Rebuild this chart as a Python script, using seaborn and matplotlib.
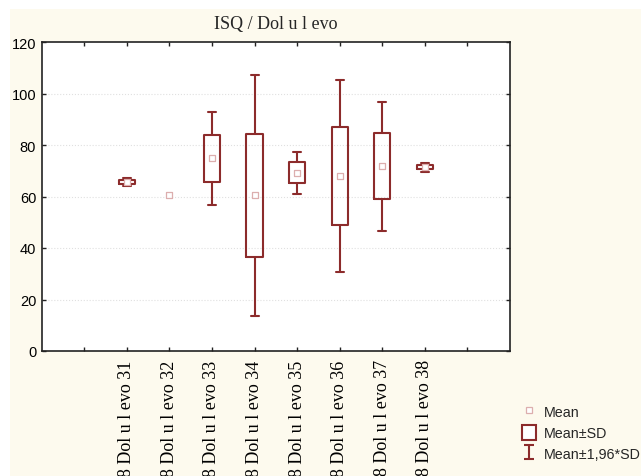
import numpy as np
import pandas as pd
import matplotlib
matplotlib.use("Agg")
import matplotlib.pyplot as plt
from matplotlib.patches import Rectangle, Patch
from matplotlib.lines import Line2D
import seaborn as sns

# ---- data ----
categories = ["31", "32", "33", "34", "35", "36", "37", "38"]
tick_labels = ["8 Dol u l evo " + c for c in categories]
means = [65.5, 60.5, 74.8, 60.4, 69.2, 68.1, 71.7, 71.4]
sds = [0.8, 0.0, 9.2, 23.8, 4.1, 19.0, 12.8, 0.9]
title = "ISQ / Dol u l evo"
legend_labels = ["Mean", "Mean±SD", "Mean±1,96*SD"]

# long-form table whose quartiles/extremes equal mean±SD and mean±1.96*SD
rows = []
for c, m, s in zip(categories, means, sds):
    if s > 0:
        for k in (-1.96, -1.0, 0.0, 1.0, 1.96):
            rows.append({"cat": c, "val": m + k * s})
box_df = pd.DataFrame(rows)
mean_df = pd.DataFrame({"cat": categories, "val": means})

sns.set_style("white")
plt.rcParams["font.family"] = ["Liberation Sans", "DejaVu Sans"]

DARK = "#8c2b2b"
PINK = "#dcaeae"
CREAM = "#fdfaee"

fig = plt.figure(figsize=(6.41, 4.77), dpi=100, facecolor="white")
fig.patches.append(Rectangle((10 / 641, 0), 1, 1 - 10 / 477, transform=fig.transFigure,
                             facecolor=CREAM, edgecolor="none", zorder=-10))
ax = fig.add_axes([41.7 / 641, 1 - 352 / 477, (510 - 41.7) / 641, (352 - 43) / 477])
ax.set_facecolor("white")

sns.boxplot(data=box_df, x="cat", y="val", order=categories, ax=ax, fill=False,
            color=DARK, width=0.38, whis=(0, 100), linewidth=1.5, showfliers=False,
            medianprops={"visible": False}, zorder=3)
sns.stripplot(data=mean_df, x="cat", y="val", order=categories, ax=ax, jitter=False,
              marker="s", size=4.2, color="white", edgecolor=PINK, linewidth=0.9, zorder=5)

ax.set_xlim(-2, 9)
ax.set_ylim(0, 120)
ax.set_yticks(np.arange(0, 121, 20))
ax.set_xticks(np.arange(-1, 9))
ax.set_xticklabels([""] + tick_labels + [""], rotation=90, family="Liberation Serif",
                   fontsize=13)
ax.tick_params(axis="y", labelsize=10.5, pad=4)
ax.tick_params(axis="x", pad=6)
ax.tick_params(direction="in", length=3, width=1, top=True, right=True, bottom=True, left=True,
               colors="#222222", labelcolor="black")
ax.set_xlabel("")
ax.set_ylabel("")
for y in range(20, 120, 20):
    ax.axhline(y, color="#e0e0e0", linestyle=":", linewidth=0.8, zorder=0)
for sp in ax.spines.values():
    sp.set_visible(True)
    sp.set_color("#222222")
    sp.set_linewidth(1.2)

ax.set_title(title, family="Liberation Serif", fontsize=13, pad=10)

eb = ax.errorbar([np.nan], [np.nan], yerr=[1], fmt="none", ecolor=DARK, capsize=3.5,
                 elinewidth=1.5, capthick=1.5)
handles = [
    Line2D([], [], linestyle="none", marker="s", markersize=4, markerfacecolor="white",
           markeredgecolor=PINK, markeredgewidth=0.9),
    Patch(facecolor="white", edgecolor=DARK, linewidth=1.5),
    eb,
]
leg = fig.legend(handles, legend_labels, loc="upper left", bbox_to_anchor=(522 / 641, 1 - 405 / 477),
                 frameon=False, fontsize=10.3, handlelength=1.0, handleheight=1.2,
                 handletextpad=0.55, labelspacing=0.4, borderaxespad=0, borderpad=0)

fig.savefig("out.png", dpi=100, facecolor=fig.get_facecolor())
